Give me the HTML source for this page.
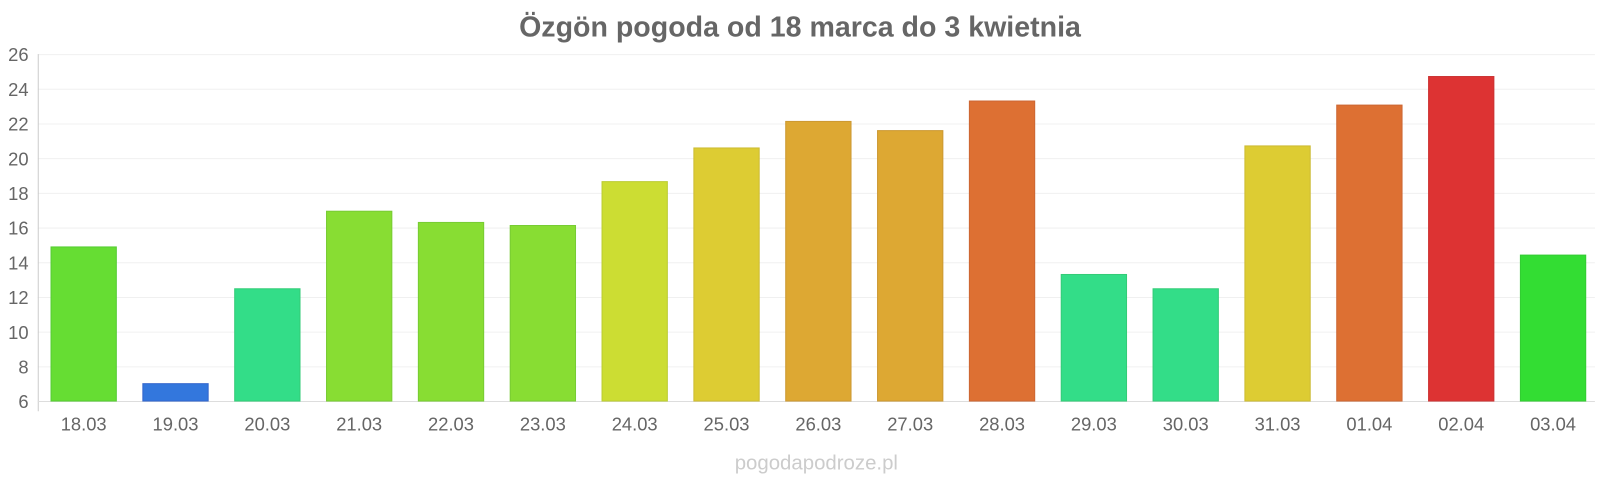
<!DOCTYPE html>
<html><head><meta charset="utf-8"><style>
html,body{margin:0;padding:0;background:#fff;}
svg{display:block;font-family:"Liberation Sans",sans-serif;}
</style></head><body>
<svg width="1600" height="480" viewBox="0 0 1568 470.4" preserveAspectRatio="none" xmlns="http://www.w3.org/2000/svg">
<text x="784" y="36" text-anchor="middle" font-size="28" font-weight="bold" fill="#666">Özgön pogoda od 18 marca do 3 kwietnia</text>
<g stroke="#f0f0f0" stroke-width="1">
<line x1="37" x2="1563" y1="53.5" y2="53.5"/><line x1="37" x2="1563" y1="87.5" y2="87.5"/>
<line x1="37" x2="1563" y1="121.5" y2="121.5"/><line x1="37" x2="1563" y1="155.5" y2="155.5"/>
<line x1="37" x2="1563" y1="189.5" y2="189.5"/><line x1="37" x2="1563" y1="223.5" y2="223.5"/>
<line x1="37" x2="1563" y1="257.5" y2="257.5"/><line x1="37" x2="1563" y1="291.5" y2="291.5"/>
<line x1="37" x2="1563" y1="325.5" y2="325.5"/><line x1="37" x2="1563" y1="359.5" y2="359.5"/>
</g>
<line x1="37.5" x2="37.5" y1="53" y2="403" stroke="#ccc"/>
<line x1="37" x2="1563" y1="393.5" y2="393.5" stroke="#ddd"/>
<g font-size="18" fill="#666" text-anchor="end">
<text x="28" y="60">26</text><text x="28" y="94">24</text><text x="28" y="128">22</text>
<text x="28" y="162">20</text><text x="28" y="196">18</text><text x="28" y="230">16</text>
<text x="28" y="264">14</text><text x="28" y="298">12</text><text x="28" y="332">10</text>
<text x="28" y="366">8</text><text x="28" y="400">6</text>
</g>
<g stroke-width="1">
<rect x="50" y="242" width="64" height="151" fill="#66dd33" stroke="#5c3"/>
<rect x="140" y="376" width="64" height="17" fill="#3377dd" stroke="#36c"/>
<rect x="230" y="283" width="64" height="110" fill="#33dd88" stroke="#3c7"/>
<rect x="320" y="207" width="64" height="186" fill="#88dd33" stroke="#7c3"/>
<rect x="410" y="218" width="64" height="175" fill="#88dd33" stroke="#7c3"/>
<rect x="500" y="221" width="64" height="172" fill="#88dd33" stroke="#7c3"/>
<rect x="590" y="178" width="64" height="215" fill="#ccdd33" stroke="#bc3"/>
<rect x="680" y="145" width="64" height="248" fill="#ddcc33" stroke="#cb3"/>
<rect x="770" y="119" width="64" height="274" fill="#dda833" stroke="#c93"/>
<rect x="860" y="128" width="64" height="265" fill="#dda833" stroke="#c93"/>
<rect x="950" y="99" width="64" height="294" fill="#dd7033" stroke="#c63"/>
<rect x="1040" y="269" width="64" height="124" fill="#33dd88" stroke="#3c7"/>
<rect x="1130" y="283" width="64" height="110" fill="#33dd88" stroke="#3c7"/>
<rect x="1220" y="143" width="64" height="250" fill="#ddcc33" stroke="#cb3"/>
<rect x="1310" y="103" width="64" height="290" fill="#dd7033" stroke="#c63"/>
<rect x="1400" y="75" width="64" height="318" fill="#dd3333" stroke="#c33"/>
<rect x="1490" y="250" width="64" height="143" fill="#33dd33" stroke="#3c3"/>
</g>
<g font-size="18" fill="#666" text-anchor="middle">
<text x="82" y="422">18.03</text><text x="172" y="422">19.03</text><text x="262" y="422">20.03</text>
<text x="352" y="422">21.03</text><text x="442" y="422">22.03</text><text x="532" y="422">23.03</text>
<text x="622" y="422">24.03</text><text x="712" y="422">25.03</text><text x="802" y="422">26.03</text>
<text x="892" y="422">27.03</text><text x="982" y="422">28.03</text><text x="1072" y="422">29.03</text>
<text x="1162" y="422">30.03</text><text x="1252" y="422">31.03</text><text x="1342" y="422">01.04</text>
<text x="1432" y="422">02.04</text><text x="1522" y="422">03.04</text>
</g>
<text x="800" y="460" text-anchor="middle" font-size="20" fill="#ccc">pogodapodroze.pl</text>
</svg>
</body></html>
